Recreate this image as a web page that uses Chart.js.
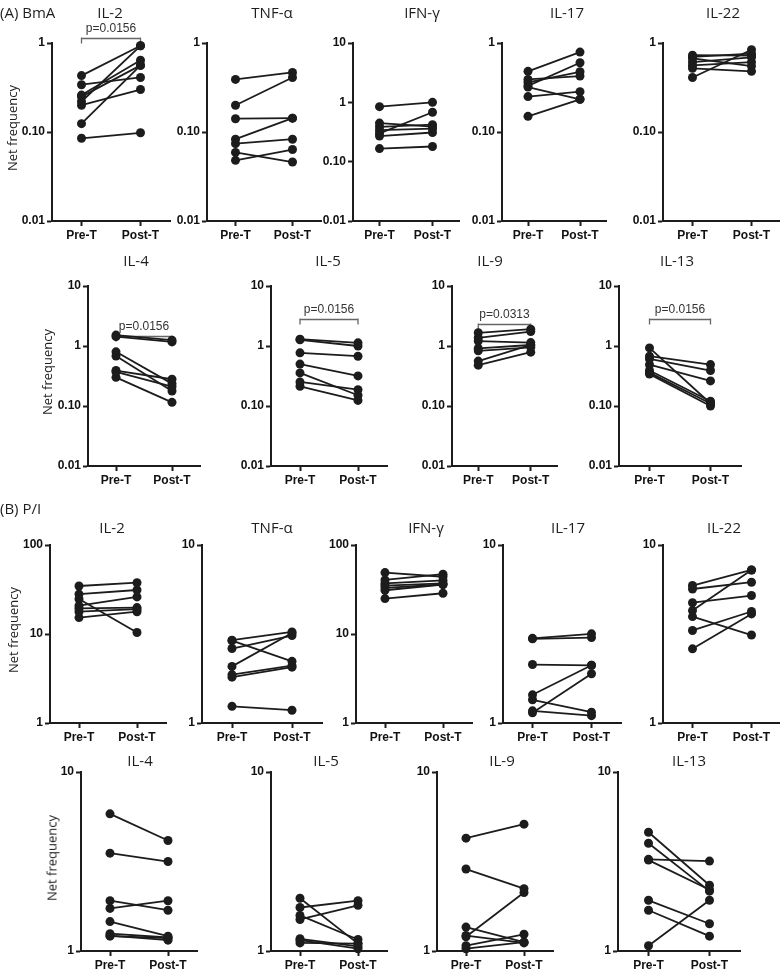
<!DOCTYPE html>
<html>
<head>
<meta charset="utf-8">
<title>Net frequency - BmA and P/I</title>
<script src="https://cdn.jsdelivr.net/npm/chart.js@4.4.0/dist/chart.umd.min.js"></script>
<style>
  body { margin: 0; background: #fff; }
  #page { position: relative; width: 780px; height: 969px; overflow: hidden; font-family: 'Open Sans', sans-serif; color: #1e1e1e; }
  #page canvas { position: absolute; }
  .lbl { position: absolute; white-space: nowrap; line-height: 1; transform: translate(-50%, -50%); z-index: 2; }
  .title { font-size: 15px; }
  .section { font-size: 15px; transform: translate(0, -50%); }
  .ylab { font-size: 13px; transform: translate(-50%, -50%) rotate(-90deg); }
</style>
</head>
<body>
<div id="page"></div>

<script>
// x categories and y tick labels
const timepoints = ['Pre-T', 'Post-T']
const yTickValues = [0.01, 0.1, 1, 10, 100]
const yTickLabels = ['0.01', '0.10', '1', '10', '100']

// (A) BmA
const bmaIL2Pre = [0.43, 0.34, 0.26, 0.25, 0.22, 0.20, 0.124, 0.085]
const bmaIL2Post = [0.93, 0.41, 0.64, 0.56, 0.93, 0.30, 0.56, 0.098]
const bmaTNFPre = [0.39, 0.20, 0.141, 0.083, 0.074, 0.059, 0.048]
const bmaTNFPost = [0.467, 0.41, 0.143, 0.143, 0.083, 0.046, 0.0635]
const bmaIFNPre = [0.845, 0.447, 0.387, 0.34, 0.30, 0.27, 0.166]
const bmaIFNPost = [1.0, 0.39, 0.42, 0.36, 0.68, 0.31, 0.18]
const bmaIL17Pre = [0.48, 0.39, 0.36, 0.33, 0.32, 0.25, 0.15]
const bmaIL17Post = [0.79, 0.425, 0.475, 0.60, 0.233, 0.284, 0.233]
const bmaIL22Pre = [0.73, 0.70, 0.67, 0.61, 0.56, 0.52, 0.41]
const bmaIL22Post = [0.72, 0.76, 0.55, 0.69, 0.61, 0.48, 0.84]
const bmaIL4Pre = [1.52, 1.43, 0.80, 0.68, 0.39, 0.37, 0.30]
const bmaIL4Post = [1.25, 1.17, 0.236, 0.178, 0.279, 0.21, 0.115]
const bmaIL5Pre = [1.30, 1.27, 0.77, 0.50, 0.356, 0.252, 0.213]
const bmaIL5Post = [1.13, 1.00, 0.676, 0.317, 0.151, 0.187, 0.124]
const bmaIL9Pre = [1.66, 1.37, 1.21, 0.91, 0.83, 0.56, 0.48]
const bmaIL9Post = [1.91, 1.74, 1.14, 1.04, 0.95, 1.04, 0.79]
const bmaIL13Pre = [0.93, 0.676, 0.61, 0.49, 0.39, 0.36, 0.34]
const bmaIL13Post = [0.11, 0.49, 0.39, 0.262, 0.12, 0.11, 0.10]

// (B) P/I
const piIL2Pre = [34.6, 28.1, 24.7, 20.8, 19.4, 17.8, 15.3]
const piIL2Post = [37.7, 31.2, 10.4, 26.1, 19.8, 19.0, 17.8]
const piTNFPre = [2.92, 2.90, 2.62, 2.08, 1.87, 1.81, 1.24]
const piTNFPost = [3.25, 2.22, 3.10, 3.20, 2.10, 2.06, 1.18]
const piIFNPre = [49, 40.5, 37, 35, 33, 31, 25]
const piIFNPost = [44, 47, 40, 37, 36, 36, 28.7]
const piIL17Pre = [2.99, 2.97, 2.13, 1.44, 1.35, 1.17, 1.14]
const piIL17Post = [3.17, 3.02, 2.11, 2.11, 1.15, 1.10, 1.89]
const piIL22Pre = [5.92, 5.66, 4.74, 4.28, 3.96, 3.31, 2.61]
const piIL22Post = [7.24, 6.18, 5.20, 7.24, 3.12, 4.23, 4.10]
const piIL4Pre = [5.84, 3.52, 1.91, 1.73, 1.46, 1.25, 1.22, 1.21]
const piIL4Post = [4.14, 3.16, 1.69, 1.91, 1.21, 1.19, 1.15, 1.18]
const piIL5Pre = [1.97, 1.75, 1.58, 1.50, 1.17, 1.15, 1.11]
const piIL5Post = [1.10, 1.91, 1.16, 1.80, 1.06, 1.03, 1.10]
const piIL9Pre = [4.27, 2.87, 1.36, 1.22, 1.20, 1.07, 1.03]
const piIL9Post = [5.11, 2.23, 1.12, 1.11, 2.12, 1.24, 1.12]
const piIL13Pre = [4.61, 4.00, 3.25, 3.22, 1.92, 1.69, 1.07]
const piIL13Post = [2.33, 2.16, 3.18, 2.20, 1.42, 1.21, 1.92]

// layout of the panels (plot area left/top/width/height, title centre)
const panels = [
  { title: 'IL-2', pre: bmaIL2Pre, post: bmaIL2Post, min: 0.01, max: 1, left: 52, top: 43, w: 118, h: 178, tx: 110, ty: 12, ylab: 12, p: 'p=0.0156', pAt: 1.14 },
  { title: 'TNF-\u03b1', pre: bmaTNFPre, post: bmaTNFPost, min: 0.01, max: 1, left: 207, top: 43, w: 114, h: 178, tx: 272, ty: 12 },
  { title: 'IFN-\u03b3', pre: bmaIFNPre, post: bmaIFNPost, min: 0.01, max: 10, left: 353, top: 43, w: 106, h: 178, tx: 422, ty: 12 },
  { title: 'IL-17', pre: bmaIL17Pre, post: bmaIL17Post, min: 0.01, max: 1, left: 502, top: 43, w: 104, h: 178, tx: 567, ty: 12 },
  { title: 'IL-22', pre: bmaIL22Pre, post: bmaIL22Post, min: 0.01, max: 1, left: 663, top: 43, w: 118, h: 178, tx: 723, ty: 12 },

  { title: 'IL-4', pre: bmaIL4Pre, post: bmaIL4Post, min: 0.01, max: 10, left: 88, top: 286, w: 112, h: 180, tx: 136, ty: 260, ylab: 47, p: 'p=0.0156', pAt: 1.47 },
  { title: 'IL-5', pre: bmaIL5Pre, post: bmaIL5Post, min: 0.01, max: 10, left: 271, top: 286, w: 116, h: 180, tx: 328, ty: 260, p: 'p=0.0156', pAt: 2.82 },
  { title: 'IL-9', pre: bmaIL9Pre, post: bmaIL9Post, min: 0.01, max: 10, left: 452, top: 286, w: 105, h: 180, tx: 490, ty: 260, p: 'p=0.0313', pAt: 2.33 },
  { title: 'IL-13', pre: bmaIL13Pre, post: bmaIL13Post, min: 0.01, max: 10, left: 619, top: 286, w: 122, h: 180, tx: 677, ty: 260, p: 'p=0.0156', pAt: 2.82 },

  { title: 'IL-2', pre: piIL2Pre, post: piIL2Post, min: 1, max: 100, left: 50, top: 545, w: 116, h: 178, tx: 112, ty: 527, ylab: 13 },
  { title: 'TNF-\u03b1', pre: piTNFPre, post: piTNFPost, min: 1, max: 10, left: 202, top: 545, w: 120, h: 178, tx: 272, ty: 527 },
  { title: 'IFN-\u03b3', pre: piIFNPre, post: piIFNPost, min: 1, max: 100, left: 356, top: 545, w: 116, h: 178, tx: 426, ty: 527 },
  { title: 'IL-17', pre: piIL17Pre, post: piIL17Post, min: 1, max: 10, left: 503, top: 545, w: 118, h: 178, tx: 568, ty: 527 },
  { title: 'IL-22', pre: piIL22Pre, post: piIL22Post, min: 1, max: 10, left: 663, top: 545, w: 118, h: 178, tx: 724, ty: 527 },

  { title: 'IL-4', pre: piIL4Pre, post: piIL4Post, min: 1, max: 10, left: 81, top: 772, w: 116, h: 179, tx: 140, ty: 760, ylab: 52 },
  { title: 'IL-5', pre: piIL5Pre, post: piIL5Post, min: 1, max: 10, left: 271, top: 772, w: 116, h: 179, tx: 326, ty: 760 },
  { title: 'IL-9', pre: piIL9Pre, post: piIL9Post, min: 1, max: 10, left: 437, top: 772, w: 116, h: 179, tx: 502, ty: 760 },
  { title: 'IL-13', pre: piIL13Pre, post: piIL13Post, min: 1, max: 10, left: 618, top: 772, w: 122, h: 179, tx: 689, ty: 760 }
]

const page = document.getElementById('page')
const YW = 44, T = 34, R = 8, XH = 28
const ink = '#1c1c1c'
const tickFont = { family: 'Liberation Sans', size: 12, weight: 'bold' }

function addLabel(text, x, y, cls) {
  let d = document.createElement('div')
  d.className = 'lbl ' + cls
  d.textContent = text
  d.style.left = x + 'px'
  d.style.top = y + 'px'
  page.appendChild(d)
}

addLabel('(A) BmA', 0, 12, 'section')
addLabel('(B) P/I', 0, 508, 'section')

// p-value bracket drawn in data space
const bracketPlugin = {
  id: 'bracket',
  beforeDatasetsDraw(chart, args, opts) {
    if (!opts.text) return
    let ctx = chart.ctx
    let x1 = chart.scales.x.getPixelForValue(0)
    let x2 = chart.scales.x.getPixelForValue(1)
    let y = Math.round(chart.scales.y.getPixelForValue(opts.at)) + 0.5
    ctx.save()
    ctx.strokeStyle = '#666'
    ctx.lineWidth = 1.3
    ctx.beginPath()
    ctx.moveTo(x1, y + 5); ctx.lineTo(x1, y - 1)
    ctx.moveTo(x1, y); ctx.lineTo(x2, y)
    ctx.moveTo(x2, y - 1); ctx.lineTo(x2, y + 5)
    ctx.stroke()
    ctx.fillStyle = '#333'
    ctx.font = '12px "Liberation Sans"'
    ctx.textAlign = 'center'
    ctx.textBaseline = 'middle'
    ctx.fillText(opts.text, (x1 + x2) / 2, y - 10)
    ctx.restore()
  }
}

panels.forEach(function (p) {
  let cv = document.createElement('canvas')
  cv.width = YW + p.w + R
  cv.height = T + p.h + XH
  cv.style.left = (p.left - YW) + 'px'
  cv.style.top = (p.top - T) + 'px'
  page.appendChild(cv)

  addLabel(p.title, p.tx, p.ty, 'title')
  if (p.ylab) addLabel('Net frequency', p.ylab, p.top + p.h / 2 - 4, 'ylab')

  let ticks = yTickValues.filter(v => v >= p.min && v <= p.max)

  let datasets = p.pre.map(function (v, i) {
    return {
      data: [v, p.post[i]],
      borderColor: ink,
      backgroundColor: ink,
      borderWidth: 1.8,
      pointRadius: 4.5,
      pointHoverRadius: 4.5,
      pointBorderWidth: 0,
      tension: 0,
      fill: false,
      clip: false
    }
  })

  new Chart(cv, {
    type: 'line',
    data: { labels: timepoints, datasets: datasets },
    options: {
      responsive: false,
      animation: false,
      events: [],
      layout: { padding: { top: T, right: R, left: 0, bottom: 0 } },
      plugins: {
        legend: { display: false },
        tooltip: { enabled: false },
        bracket: { text: p.p, at: p.pAt }
      },
      scales: {
        x: {
          type: 'category',
          offset: true,
          grid: { drawOnChartArea: false, offset: false, tickLength: 5, tickWidth: 2, tickColor: ink },
          border: { color: ink, width: 2 },
          ticks: { color: '#111', font: tickFont, padding: 2, maxRotation: 0, autoSkip: false },
          afterFit: s => { s.height = XH }
        },
        y: {
          type: 'logarithmic',
          min: p.min,
          max: p.max,
          grid: { drawOnChartArea: false, tickLength: 5, tickWidth: 2, tickColor: ink },
          border: { color: ink, width: 2 },
          ticks: {
            color: '#111',
            font: tickFont,
            padding: 2,
            callback: v => yTickLabels[yTickValues.indexOf(v)]
          },
          afterBuildTicks: s => { s.ticks = ticks.map(v => ({ value: v })) },
          afterFit: s => { s.width = YW }
        }
      }
    },
    plugins: [bracketPlugin]
  })
})
</script>
</body>
</html>
